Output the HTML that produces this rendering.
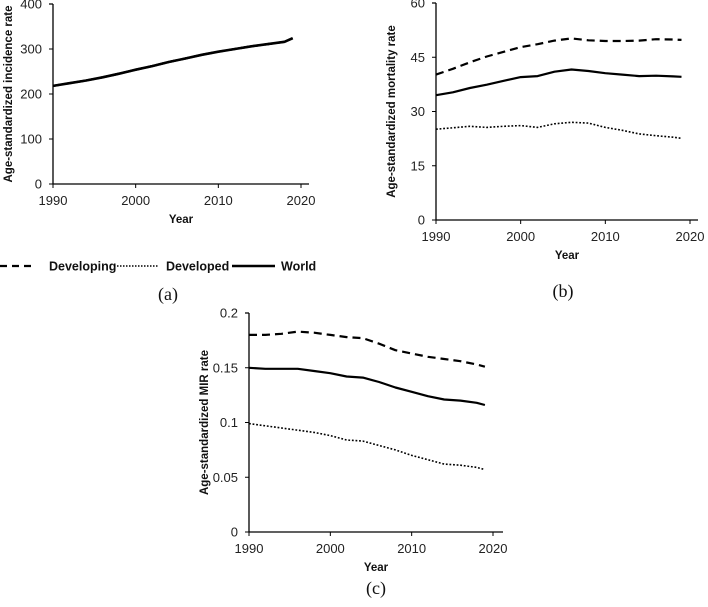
<!DOCTYPE html>
<html><head><meta charset="utf-8"><style>
body{margin:0;background:#fff;width:708px;height:602px;overflow:hidden}
svg{font-family:"Liberation Sans",Arial,sans-serif}
.t{font-size:13px;fill:#222}
.ax{font-size:11.5px;font-weight:bold;fill:#111}
.cap{font-family:"Liberation Serif",serif;font-size:18px;fill:#111}
</style></head><body>
<svg id="s" width="708" height="602">
<g>
<line x1="0" y1="266" x2="34" y2="266" stroke="#000" stroke-width="2.2" stroke-dasharray="7,5"/>
<text x="49" y="270.5" class="ax" style="font-size:12.5px">Developing</text>
<line x1="114" y1="266" x2="159" y2="266" stroke="#000" stroke-width="1.5" stroke-dasharray="1.5,1.5"/>
<text x="166" y="270.5" class="ax" style="font-size:12.5px">Developed</text>
<line x1="232" y1="266" x2="275" y2="266" stroke="#000" stroke-width="2.5"/>
<text x="281" y="270.5" class="ax" style="font-size:12.5px">World</text>
</g>
<text x="168" y="300" class="cap" text-anchor="middle">(a)</text>
<text x="563" y="297" class="cap" text-anchor="middle">(b)</text>
<text x="376" y="594" class="cap" text-anchor="middle">(c)</text>
</svg>
<script>
const years=[1990,1992,1994,1996,1998,2000,2002,2004,2006,2008,2010,2012,2014,2016,2018,2019];
const aWorld=[218,224,230,237,245,254,262,271,279,287,294,300,306,311,316,324];
const aYTicks=[0,100,200,300,400];
const bDeveloping=[40.2,41.8,43.6,45.2,46.5,47.8,48.6,49.6,50.2,49.7,49.5,49.5,49.6,50.0,49.9,49.8];
const bDeveloped=[25.1,25.5,25.9,25.6,25.9,26.1,25.6,26.6,27.0,26.8,25.6,24.8,23.8,23.3,22.9,22.6];
const bWorld=[34.5,35.3,36.5,37.4,38.5,39.5,39.8,41.0,41.6,41.2,40.6,40.2,39.8,39.9,39.7,39.6];
const bYTicks=[0,15,30,45,60];
const cDeveloping=[0.180,0.180,0.181,0.183,0.182,0.180,0.178,0.177,0.172,0.166,0.163,0.160,0.158,0.156,0.153,0.151];
const cDeveloped=[0.099,0.097,0.095,0.093,0.091,0.088,0.084,0.083,0.079,0.075,0.070,0.066,0.062,0.061,0.059,0.057];
const cWorld=[0.150,0.149,0.149,0.149,0.147,0.145,0.142,0.141,0.137,0.132,0.128,0.124,0.121,0.120,0.118,0.116];
const cYTicks=[0,0.05,0.1,0.15,0.2];
const xTicks=[1990,2000,2010,2020];
const NS="http://www.w3.org/2000/svg";
const svg=document.getElementById('s');
function mk(tag,attrs,parent){const e=document.createElementNS(NS,tag);for(const k in attrs)e.setAttribute(k,attrs[k]);(parent||svg).appendChild(e);return e;}
function panel(id,P,yTicks,yTitle,series){
  const g=mk('g',{});
  
  
  const ymax=yTicks[yTicks.length-1];
  const xs=v=>P.x0+(v-1990)/30*(P.x1-P.x0);
  const ys=v=>P.y0-v/ymax*(P.y0-P.yTop);
  const ax=mk('path',{d:`M${P.x0},${P.yTop}H${P.x0-4}M${P.x0},${P.yTop}V${P.y0}H${P.xe}`,stroke:'#000','stroke-width':1.3,fill:'none'},g);
  
  
  yTicks.forEach(t=>{
    mk('line',{x1:P.x0-4,x2:P.x0,y1:ys(t),y2:ys(t),stroke:'#000','stroke-width':1},g);
    const tx=mk('text',{x:P.x0-11,y:ys(t)+4.5,'text-anchor':'end',class:'t'},g);
    tx.textContent=String(t);
    
    
  });
  xTicks.forEach(t=>{
    mk('line',{x1:xs(t),x2:xs(t),y1:P.y0,y2:P.y0+4,stroke:'#000','stroke-width':1},g);
    const tx=mk('text',{x:xs(t),y:P.y0+21,'text-anchor':'middle',class:'t'},g);
    tx.textContent=String(t);
    
    
  });
  const xt=mk('text',{x:(P.x0+P.xe)/2,y:P.y0+39,'text-anchor':'middle',class:'ax'},g);
  xt.textContent='Year';
  
  
  const yc=(P.y0+P.yTop)/2;
  const yt=mk('text',{x:P.x0-41,y:yc,'text-anchor':'middle',class:'ax',transform:`rotate(-90 ${P.x0-41} ${yc})`},g);
  yt.textContent=yTitle;
  
  
  series.forEach(s=>{
    const d=years.map((y,i)=>(i?'L':'M')+xs(y).toFixed(1)+','+ys(s.v[i]).toFixed(1)).join('');
    const p=mk('path',{d,fill:'none',stroke:'#000','stroke-width':s.w,'stroke-dasharray':s.da||'none','stroke-linejoin':'round'},g);
    
    
  });
}
panel('a',{x0:53,x1:301,xe:309,y0:184,yTop:4},aYTicks,'Age-standardized incidence rate',[
  {v:aWorld,w:2.2,da:'1.5,1.5',name:'line-developed'},
  {v:aWorld,w:2.2,da:'7,5',name:'line-developing'},
  {v:aWorld,w:2.6,name:'line-world'}]);
panel('b',{x0:436,x1:690,xe:698,y0:220,yTop:3},bYTicks,'Age-standardized mortality rate',[
  {v:bDeveloping,w:2.2,da:'8,5',name:'line-developing'},
  {v:bDeveloped,w:1.6,da:'1.8,1.8',name:'line-developed'},
  {v:bWorld,w:2.2,name:'line-world'}]);
panel('c',{x0:249,x1:493,xe:503,y0:532,yTop:313},cYTicks,'Age-standardized MIR rate',[
  {v:cDeveloping,w:2.2,da:'8,5',name:'line-developing'},
  {v:cDeveloped,w:1.6,da:'1.8,1.8',name:'line-developed'},
  {v:cWorld,w:2.2,name:'line-world'}]);
</script>
</body></html>
